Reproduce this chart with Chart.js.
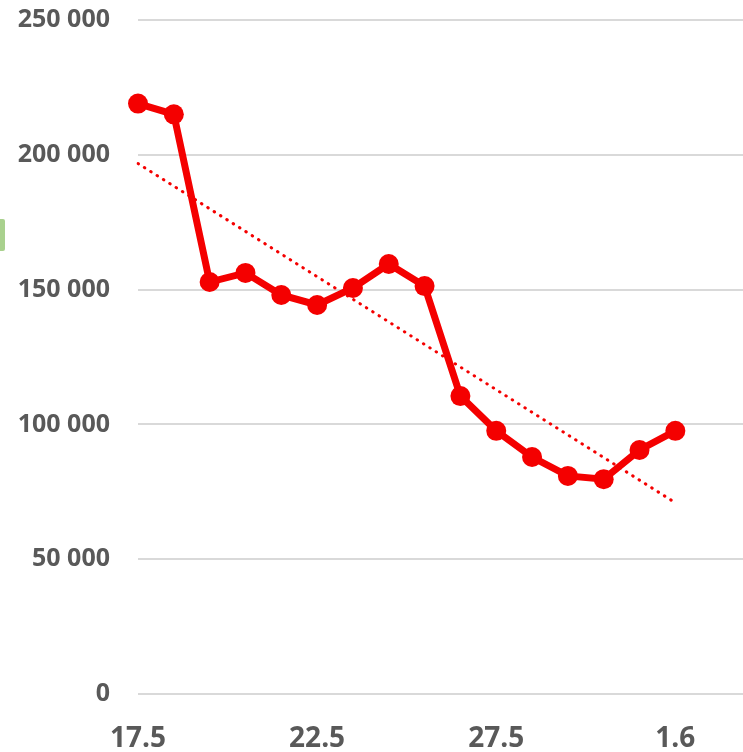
<!DOCTYPE html>
<html>
<head>
<meta charset="utf-8">
<script src="https://cdn.jsdelivr.net/npm/chart.js@4.4.0/dist/chart.umd.min.js"></script>
<style>
  html, body { margin: 0; padding: 0; background: #fff; overflow: hidden; }
  #wrap { position: relative; width: 743px; height: 752px; overflow: hidden; }
  #chart { position: absolute; left: 0; top: 0; }
  #mark { position: absolute; left: 0; top: 219px; width: 5px; height: 32px; background: #a9d18e; border-radius: 0 2px 2px 0; }
</style>
</head>
<body>
<div id="wrap">
  <canvas id="chart" width="760" height="752"></canvas>
  <div id="mark"></div>
</div>
<script>
// dates (day.month); the last two have no value yet
const days = ['17.5', '18.5', '19.5', '20.5', '21.5', '22.5', '23.5', '24.5', '25.5',
              '26.5', '27.5', '28.5', '29.5', '30.5', '31.5', '1.6', '2.6', '3.6'];
const values = [219000, 215000, 152800, 156200, 148000, 144300, 150600, 159500, 151300,
                110500, 97600, 87900, 80900, 79700, 90500, 97600];
const yTicks = [0, 50000, 100000, 150000, 200000, 250000];

// linear trend (least squares) over the points that have a value
function trend(vals) {
  const n = vals.length;
  let sx = 0, sy = 0, sxy = 0, sxx = 0;
  vals.forEach((v, i) => { sx += i; sy += v; sxy += i * v; sxx += i * i; });
  const b = (n * sxy - sx * sy) / (n * sxx - sx * sx);
  const a = (sy - b * sx) / n;
  return vals.map((v, i) => a + b * i);
}

const grey = '#595959';
const red = '#f40000';

function fmt(v) {
  return String(v).replace(/\B(?=(\d{3})+(?!\d))/g, ' ');
}

const ctx = document.getElementById('chart').getContext('2d');
new Chart(ctx, {
  type: 'line',
  data: {
    labels: days,
    datasets: [{
      data: values,
      borderColor: red,
      backgroundColor: red,
      borderWidth: 7,
      pointRadius: 10,
      pointBorderWidth: 0,
      pointBackgroundColor: red,
      tension: 0,
      order: 1
    }, {
      data: trend(values),
      borderColor: red,
      borderWidth: 3,
      borderDash: [0.5, 7],
      borderCapStyle: 'round',
      pointRadius: 0,
      tension: 0,
      order: 2
    }]
  },
  options: {
    responsive: false,
    animation: false,
    layout: { padding: { top: 20, right: 13, bottom: 0, left: 0 } },
    plugins: { legend: { display: false }, tooltip: { enabled: false } },
    scales: {
      x: {
        offset: false,
        afterFit: function (s) {
          s.height = 58;
          s.paddingLeft = 0; s.paddingRight = 0;
        },
        grid: { display: false, drawTicks: false },
        border: { display: false },
        ticks: {
          autoSkip: false,
          maxRotation: 0,
          padding: 28,
          color: grey,
          font: { family: 'Open Sans', size: 28, weight: 'bold' },
          callback: function (v, i) { return i % 5 === 0 ? days[i] : ''; }
        }
      },
      y: {
        min: 0,
        max: 250000,
        afterFit: function (s) {
          s.width = 138;
          s.paddingTop = 0; s.paddingBottom = 0;
        },
        afterBuildTicks: function (s) { s.ticks = yTicks.map(v => ({ value: v })); },
        grid: { color: '#d9d9d9', lineWidth: 2, drawTicks: false },
        border: { display: false },
        ticks: {
          padding: 28,
          color: grey,
          font: { family: 'Open Sans', size: 25, weight: 'bold' },
          callback: fmt
        }
      }
    }
  }
});
</script>
</body>
</html>
